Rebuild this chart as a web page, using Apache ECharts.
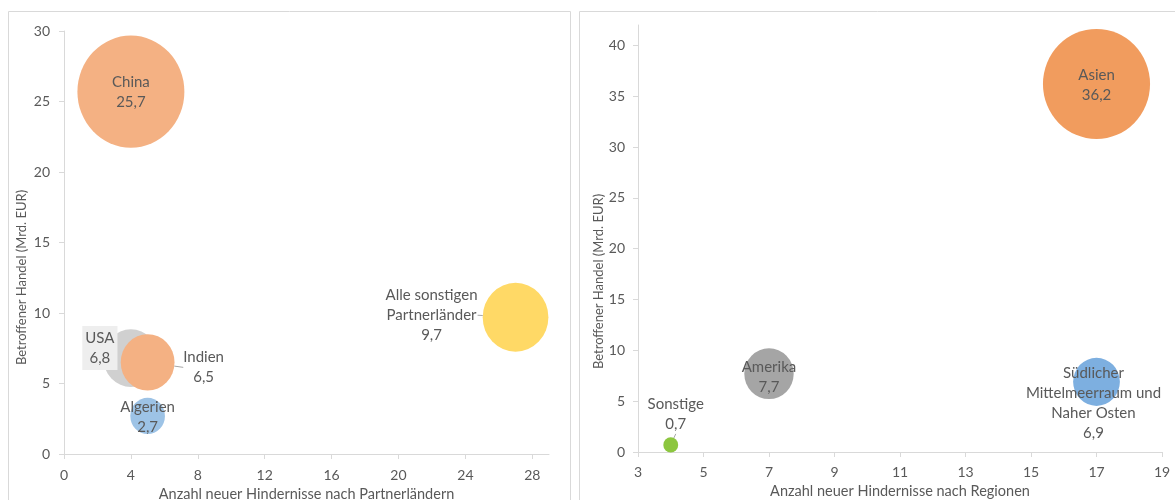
<!DOCTYPE html>
<html>
<head>
<meta charset="utf-8">
<title>Betroffener Handel</title>
<script src="https://cdn.jsdelivr.net/npm/echarts@6/dist/echarts.min.js"></script>
<style>
  html, body { margin: 0; padding: 0; background: #fff; }
  #chart { width: 1175px; height: 500px; }
</style>
</head>
<body>
<div id="chart"></div>
<script>
// Partnerländer (linkes Diagramm)
const countryNames = ['China', 'USA', 'Indien', 'Algerien', 'Alle sonstigen\nPartnerländer'];
const countryBarriers = [4, 4, 5, 5, 27];
const countryTrade = [25.7, 6.8, 6.5, 2.7, 9.7];

// Regionen (rechtes Diagramm)
const regionNames = ['Asien', 'Amerika', 'Südlicher\nMittelmeerraum und\nNaher Osten', 'Sonstige'];
const regionBarriers = [17, 7, 17, 4];
const regionTrade = [36.2, 7.7, 6.9, 0.7];

// Achsenbeschriftungen
const countryXTicks = [0, 4, 8, 12, 16, 20, 24, 28];
const countryYTicks = [0, 5, 10, 15, 20, 25, 30];
const regionXTicks = [3, 5, 7, 9, 11, 13, 15, 17, 19];
const regionYTicks = [0, 5, 10, 15, 20, 25, 30, 35, 40];

// Farben / Label-Versatz (nur Styling)
const countryColors = ['#F4B183', '#D0D0D0', '#F4B183', '#9DC3E6', '#FFD966'];
const regionColors = ['#F19C5E', '#A5A5A5', '#7DAFE0', '#8CC63F'];
const countryLabelShift = [[0, 1], [-31, -10], [56, 5], [0, 1], [-84, -2]];
const regionLabelShift = [[0, 1], [0, 3], [-3, 21], [5, -31]];
const countryLeader = [false, false, true, false, true];
const regionLeader = [false, false, false, true];
const countryLabelBg = [null, '#EEEEEE', null, null, null];

const textColor = '#595959';
const lineColor = '#D9D9D9';

function valueAxis(o) {
  return {
    type: 'value',
    gridIndex: o.grid,
    min: o.min,
    max: o.max,
    name: o.name,
    nameLocation: 'middle',
    nameGap: o.nameGap,
    nameTextStyle: { color: textColor, fontSize: o.nameSize, padding: o.namePadding || 0 },
    axisLine: { show: true, onZero: false, lineStyle: { color: lineColor } },
    axisTick: { show: true, length: 5, customValues: o.ticks, lineStyle: { color: lineColor } },
    axisLabel: { color: textColor, fontSize: 14, margin: o.margin, customValues: o.ticks },
    splitLine: { show: false }
  };
}

function bubbleSeries(idx, names, xs, ys, colors, shift, leader, kx, ky, bg) {
  return {
    type: 'scatter',
    xAxisIndex: idx,
    yAxisIndex: idx,
    symbolSize: v => [kx * Math.sqrt(v[2]), ky * Math.sqrt(v[2])],
    data: names.map((n, i) => {
      const item = {
        name: n,
        value: [xs[i], ys[i], ys[i]],
        itemStyle: { color: colors[i], opacity: 1 },
        labelLine: { show: leader[i] }
      };
      if (bg && bg[i]) item.label = { backgroundColor: bg[i], padding: [2, 3] };
      return item;
    }),
    label: {
      show: true,
      position: 'inside',
      color: textColor,
      fontSize: 15,
      lineHeight: 20,
      formatter: p => p.name + '\n' + String(p.value[1]).replace('.', ',')
    },
    labelLine: { showAbove: true, lineStyle: { color: '#A6A6A6', width: 1 } },
    labelLayout: p => ({ dx: shift[p.dataIndex][0], dy: shift[p.dataIndex][1] }),
    emphasis: { disabled: true },
    silent: true
  };
}

const chart = echarts.init(document.getElementById('chart'));
chart.setOption({
  animation: false,
  textStyle: { fontFamily: 'Lato' },
  graphic: [
    { type: 'rect', shape: { x: 8.5, y: 11.5, width: 562, height: 520 }, style: { fill: 'none', stroke: lineColor } },
    { type: 'rect', shape: { x: 579.5, y: 11.5, width: 620, height: 520 }, style: { fill: 'none', stroke: lineColor } }
  ],
  grid: [
    { left: 64, right: 626, top: 31, bottom: 46, outerBoundsMode: 'none', containLabel: false },
    { left: 638, right: 13, top: 25, bottom: 48, outerBoundsMode: 'none', containLabel: false }
  ],
  xAxis: [
    valueAxis({ grid: 0, min: 0, max: 29, ticks: countryXTicks, name: 'Anzahl neuer Hindernisse nach Partnerländern', nameGap: 32, nameSize: 14.5, margin: 14 }),
    valueAxis({ grid: 1, min: 3, max: 19, ticks: regionXTicks, name: 'Anzahl neuer Hindernisse nach Regionen', nameGap: 32, nameSize: 14.5, margin: 13 })
  ],
  yAxis: [
    valueAxis({ grid: 0, min: 0, max: 30, ticks: countryYTicks, name: 'Betroffener Handel (Mrd. EUR)', nameGap: 36, nameSize: 13, margin: 14, namePadding: [0, 70, 0, 0] }),
    valueAxis({ grid: 1, min: 0, max: 42, ticks: regionYTicks, name: 'Betroffener Handel (Mrd. EUR)', nameGap: 32, nameSize: 13, margin: 13, namePadding: [0, 86, 0, 0] })
  ],
  series: [
    bubbleSeries(0, countryNames, countryBarriers, countryTrade, countryColors, countryLabelShift, countryLeader, 21.1, 22.1, countryLabelBg),
    bubbleSeries(1, regionNames, regionBarriers, regionTrade, regionColors, regionLabelShift, regionLeader, 17.8, 18.3)
  ]
});
</script>
</body>
</html>
